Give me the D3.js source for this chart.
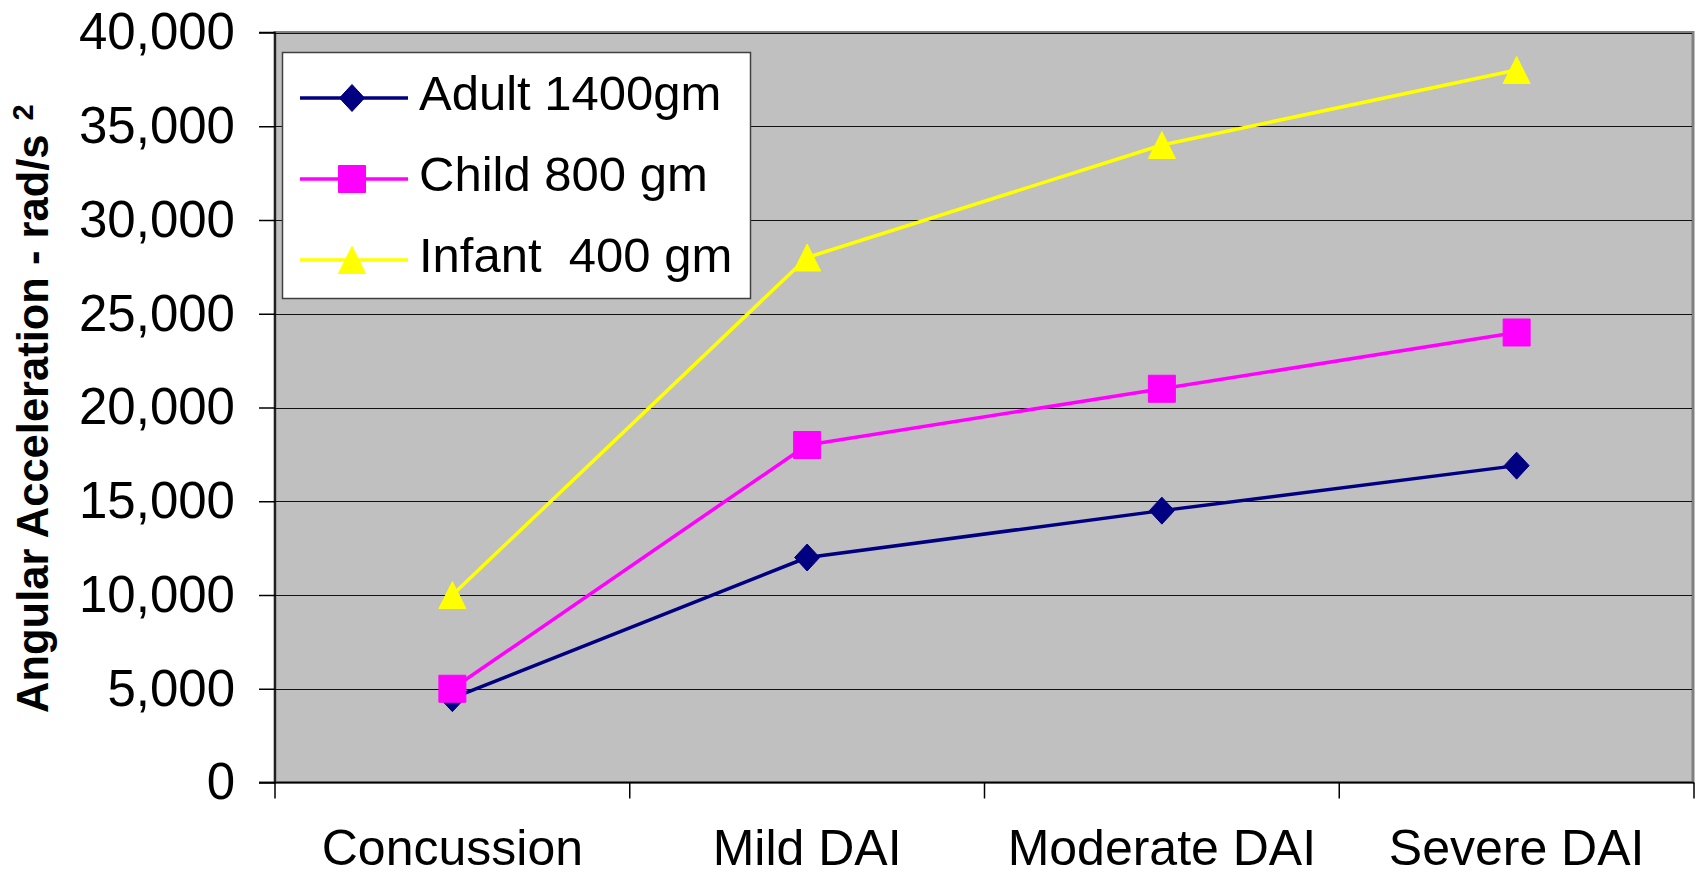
<!DOCTYPE html>
<html>
<head>
<meta charset="utf-8">
<script src="https://cdn.jsdelivr.net/npm/d3@7"></script>
<style>
  body { margin: 0; background: #fff; }
  svg text { font-family: "Liberation Sans", Arial, sans-serif; }
</style>
</head>
<body>
<svg width="1698" height="876"></svg>
<script>

// categories along the x axis
var categories = ["Concussion", "Mild DAI", "Moderate DAI", "Severe DAI"];

// series values (rad/s^2)
var adult  = [4500, 12000, 14500, 16900];
var child  = [5000, 18000, 21000, 24000];
var infant = [10000, 28000, 34000, 38000];

var seriesNames  = ["Adult 1400gm", "Child 800 gm", "Infant  400 gm"];
var seriesColors = ["#000080", "#ff00ff", "#ffff00"];
var seriesShapes = ["diamond", "square", "triangle"];

var yTicks = [0, 5000, 10000, 15000, 20000, 25000, 30000, 35000, 40000];

window.onload = function() {
    makeChart();
}

// marker outline centred on 0,0
function markerPath(shape) {
    var p = d3.path();
    if (shape == "diamond") {
        p.moveTo(0, -13.5); p.lineTo(12.5, 0); p.lineTo(0, 13.5); p.lineTo(-12.5, 0);
    } else if (shape == "square") {
        p.rect(-13.5, -13.5, 27, 27);
    } else {
        p.moveTo(0, -13.5); p.lineTo(13.5, 13.5); p.lineTo(-13.5, 13.5);
    }
    p.closePath();
    return p.toString();
}

function makeChart() {

    var svg = d3.select("svg");

    // plot area edges
    var left = 275, right = 1694, top = 32.5, bottom = 782.5;

    var x = d3.scaleBand()
        .domain(categories)
        .range([left, right])
        .padding(0);

    var y = d3.scaleLinear()
        .domain([0, 40000])
        .range([bottom, top]);

    // grey plot background with darker border
    svg.append("rect")
        .attr("x", left)
        .attr("y", top)
        .attr("width", right - left - 1)
        .attr("height", bottom - top)
        .attr("fill", "#c0c0c0")
        .attr("stroke", "#808080")
        .attr("stroke-width", 3);

    // horizontal gridlines
    svg.append("g")
        .selectAll("line")
        .data(yTicks.slice(1))
        .enter().append("line")
        .attr("x1", left)
        .attr("x2", right - 2)
        .attr("y1", function(d) { return Math.round(y(d)) + 0.5; })
        .attr("y2", function(d) { return Math.round(y(d)) + 0.5; })
        .attr("stroke", "#111")
        .attr("stroke-width", 1.2);

    // y axis
    var yAxis = svg.append("g")
        .attr("transform", "translate(" + left + ",0)")
        .call(d3.axisLeft(y)
            .tickValues(yTicks)
            .tickSize(16)
            .tickPadding(24)
            .tickFormat(d3.format(",")));
    yAxis.selectAll("text")
        .attr("font-size", 51)
        .attr("fill", "#000")
        .style("font-family", "'Liberation Sans', Arial, sans-serif");
    yAxis.selectAll("line, path").attr("stroke", "#000").attr("stroke-width", 1.5);
    yAxis.select(".domain").attr("d", "M-16," + top + "H0V" + bottom + "H-16");

    // x axis: labels in the middle of each band
    var xAxis = svg.append("g")
        .attr("transform", "translate(0," + bottom + ")")
        .call(d3.axisBottom(x).tickSize(0).tickPadding(47));
    xAxis.selectAll("text")
        .attr("font-size", 50)
        .attr("fill", "#000")
        .style("font-family", "'Liberation Sans', Arial, sans-serif");
    xAxis.select(".domain")
        .attr("d", "M" + (left - 16) + ",0H" + right)
        .attr("stroke", "#000")
        .attr("stroke-width", 1.5);

    // tick marks between categories
    var edges = categories.map(function(c) { return x(c); }).concat([right]);
    svg.append("g")
        .selectAll("line")
        .data(edges)
        .enter().append("line")
        .attr("x1", function(d) { return d; })
        .attr("x2", function(d) { return d; })
        .attr("y1", bottom)
        .attr("y2", bottom + 16)
        .attr("stroke", "#000")
        .attr("stroke-width", 1.5);

    // y axis title, rotated
    var title = svg.append("text")
        .attr("transform", "translate(48,713) rotate(-90)")
        .attr("font-size", 43.5)
        .attr("font-weight", "bold")
        .attr("fill", "#000")
        .text("Angular Acceleration - rad/s");
    title.append("tspan")
        .attr("dx", 14)
        .attr("dy", -15)
        .attr("font-size", 29)
        .text("2");

    // lines and markers for each series
    var allSeries = [adult, child, infant];
    var line = d3.line()
        .x(function(d, i) { return x(categories[i]) + x.bandwidth() / 2; })
        .y(function(d) { return y(d); });

    allSeries.forEach(function(values, s) {
        var g = svg.append("g");
        g.append("path")
            .attr("d", line(values))
            .attr("fill", "none")
            .attr("stroke", seriesColors[s])
            .attr("stroke-width", 3.5)
            .attr("stroke-linejoin", "round");
        g.selectAll(".marker")
            .data(values)
            .enter().append("path")
            .attr("class", "marker")
            .attr("d", markerPath(seriesShapes[s]))
            .attr("transform", function(d, i) {
                return "translate(" + (x(categories[i]) + x.bandwidth() / 2) + "," + y(d) + ")";
            })
            .attr("fill", seriesColors[s])
            .attr("stroke", seriesColors[s])
            .attr("stroke-width", 1)
            .attr("stroke-linejoin", "round");
    });

    // legend
    var legend = svg.append("g");
    legend.append("rect")
        .attr("x", 282.5)
        .attr("y", 52.5)
        .attr("width", 468)
        .attr("height", 246)
        .attr("fill", "#fff")
        .attr("stroke", "#404040")
        .attr("stroke-width", 1.5);

    var rowY = [98, 179, 260];
    seriesNames.forEach(function(name, s) {
        var row = legend.append("g")
            .attr("transform", "translate(0," + rowY[s] + ")");
        row.append("line")
            .attr("x1", 300)
            .attr("x2", 408)
            .attr("stroke", seriesColors[s])
            .attr("stroke-width", 3.5);
        row.append("path")
            .attr("d", markerPath(seriesShapes[s]))
            .attr("transform", "translate(352,0)")
            .attr("fill", seriesColors[s])
            .attr("stroke", seriesColors[s])
            .attr("stroke-width", 1);
        row.append("text")
            .attr("x", 419)
            .attr("y", 12)
            .attr("font-size", 49)
            .attr("fill", "#000")
            .style("white-space", "pre")
            .text(name);
    });
}
</script>
</body>
</html>
